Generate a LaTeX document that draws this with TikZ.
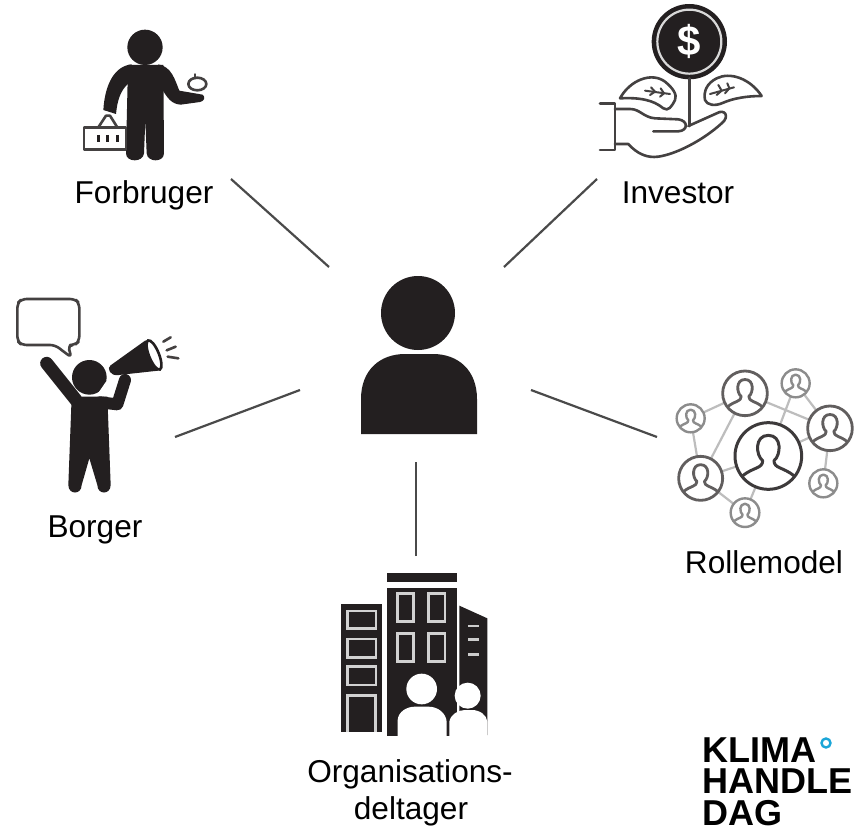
\documentclass[tikz,border=0pt]{standalone}
\usepackage{fontspec}
\setmainfont{Liberation Sans}
\definecolor{ink}{HTML}{231F20}
\definecolor{linegray}{HTML}{4A4A4A}
\definecolor{netgray}{HTML}{BDBDBD}
\definecolor{logoblue}{HTML}{1BA6D8}
\tikzset{
  label/.style={font=\fontsize{31.6}{38}\selectfont,text=black,anchor=base,align=center,inner sep=0pt},
  connector/.style={draw=linegray,line width=2.2pt},
  outline/.style={draw=ink!85,line width=2.6pt,line join=round,line cap=round},
  lightline/.style={draw=white!82!black,line width=2.4pt},
  netlink/.style={draw=netgray,line width=2.2pt},
  limb/.style={draw=ink,line cap=round,line join=round},
}
\newcommand{\netperson}[4]{% name, radius in zoom units, colour, line width
  \begin{scope}[shift={(#1)},scale=#2]
    \fill[white] (0,0) circle (1);
    \draw[draw=#3,line width=#4,line join=round]
      (-.78,.6) .. controls (-.45,.33) and (-.17,.38) .. (-.17,.14)
      .. controls (-.38,-.02) and (-.42,-.62) .. (0,-.62)
      .. controls (.42,-.62) and (.38,-.02) .. (.17,.14)
      .. controls (.17,.38) and (.45,.33) .. (.78,.6);
    \draw[draw=#3,line width=#4] (0,0) circle (1);
  \end{scope}}
\begin{document}
\begin{tikzpicture}[x=1pt,y=-1pt]
\useasboundingbox[fill=white] (0,0) rectangle (860,827);

% ---- centre person
\fill[ink] (418,313) circle (37);
\fill[ink] (361,434) -- (361,399) .. controls (361,370) and (380,354) .. (405,354)
  -- (433,354) .. controls (458,354) and (477,370) .. (477,399) -- (477,434) -- cycle;

% ---- connector ends
\coordinate (forbrugerEnd) at (231,179);
\coordinate (forbrugerHub) at (329,267);
\coordinate (investorEnd) at (597,179);
\coordinate (investorHub) at (504,267);
\coordinate (borgerEnd) at (175,437);
\coordinate (borgerHub) at (300,390);
\coordinate (rolleEnd) at (657,437);
\coordinate (rolleHub) at (531,390);
\coordinate (orgEnd) at (416,556);
\coordinate (orgHub) at (416,462);
\draw[connector] (forbrugerEnd) -- (forbrugerHub);
\draw[connector] (investorEnd) -- (investorHub);
\draw[connector] (borgerEnd) -- (borgerHub);
\draw[connector] (rolleEnd) -- (rolleHub);
\draw[connector] (orgEnd) -- (orgHub);

% ---- Forbruger
\begin{scope}[shift={(60,20)},scale=1/3]
  \fill[ink] (255,82) circle (53);
  % torso and legs
  \fill[ink] (204,135) -- (310,135) -- (312,400) .. controls (312,428) and (262,428) .. (260,400)
    -- (256,300) -- (252,400) .. controls (250,428) and (198,428) .. (198,400) -- cycle;
  % arm with basket
  \fill[ink] (215,133) .. controls (165,138) and (135,190) .. (130,270) -- (168,282)
    .. controls (172,240) and (182,210) .. (206,190) -- cycle;
  % arm with apple
  \fill[ink] (295,133) .. controls (335,140) and (345,180) .. (358,212) -- (428,224)
    .. controls (438,232) and (432,244) .. (420,246) -- (362,254)
    .. controls (335,252) and (322,235) .. (305,205) -- cycle;
  \draw[outline] (72,322) rectangle (198,388);
  \draw[outline] (115,322) -- (138,287) -- (150,287) -- (172,322);
  \foreach \xx in {115,143,172} \draw[ink,line width=3pt] (\xx,345) -- (\xx,366);
  \draw[outline,fill=white] (412,192) ellipse (27 and 19);
  \draw[outline] (405,163) -- (405,175);
\end{scope}

% ---- Investor
\begin{scope}[shift={(590,0)},scale=1/3]
  \fill[ink] (298,125) circle (113);
  \draw[white!85!black,line width=2.2pt] (298,125) circle (96);
  \node[font=\bfseries\fontsize{42}{42}\selectfont,text=white,inner sep=0pt] (dollar) at (298,125) {\$};
  \draw[outline] (298,235) -- (298,378);
  \draw[outline] (90,295) .. controls (120,240) and (185,215) .. (225,245) .. controls (250,265) and (262,285) .. (255,300)
    .. controls (245,320) and (235,335) .. (220,325) .. controls (190,300) and (150,292) .. (90,295);
  \draw[outline] (515,288) .. controls (480,235) and (420,215) .. (380,235) .. controls (350,250) and (340,275) .. (345,300)
    .. controls (350,315) and (375,320) .. (400,308) .. controls (430,295) and (470,288) .. (515,288);
  \draw[outline,line width=2pt] (165,272) -- (240,282);
  \draw[outline,line width=2pt] (183,262) -- (195,275) -- (180,285);
  \draw[outline,line width=2pt] (212,265) -- (222,280) -- (210,290);
  \draw[outline,line width=2pt] (360,282) -- (432,262);
  \draw[outline,line width=2pt] (385,255) -- (395,272) -- (380,285);
  \draw[outline,line width=2pt] (412,250) -- (418,265) -- (405,280);
  \draw[outline] (30,310) -- (75,310) -- (75,450) -- (30,450);
  \draw[outline] (75,327) -- (120,327) .. controls (150,327) and (160,352) .. (195,355) -- (265,358)
    .. controls (295,362) and (295,392) .. (265,394) -- (190,394);
  \draw[outline] (75,432) -- (115,432) .. controls (140,460) and (170,475) .. (205,470)
    .. controls (260,462) and (340,420) .. (395,370) .. controls (420,350) and (405,325) .. (380,340)
    -- (295,378);
\end{scope}

% ---- Borger
\begin{scope}[shift={(0,285)},scale=1/3]
  \draw[outline,rounded corners=5pt] (165,180) -- (65,180) -- (52,168) -- (52,55) -- (65,42) -- (225,42) -- (238,55)
    -- (238,168) -- (225,180) -- (203,180) -- (215,218) -- cycle;
  \draw[limb,line width=13pt] (140,235) -- (228,345);
  \fill[ink] (215,335) -- (205,600) .. controls (205,630) and (245,630) .. (245,600) -- (268,520)
    -- (292,600) .. controls (292,630) and (332,630) .. (332,600) -- (322,335) -- cycle;
  \fill[ink] (268,277) circle (52);
  \draw[limb,line width=12pt] (300,352) -- (352,358) -- (375,285);
  \fill[white] (350,282) -- (322,326) -- (292,328) -- (318,290) -- cycle;
  \fill[ink,rounded corners=4pt] (322,248) -- (445,160) -- (484,256) -- (338,272) -- cycle;
  \draw[ink,line width=2.6pt,fill=white,rotate around={22:(462,210)}] (462,210) ellipse (15 and 47);
  \draw[outline] (490,170) -- (512,157);
  \draw[outline] (500,196) -- (527,185);
  \draw[outline] (503,215) -- (535,220);
\end{scope}

% ---- Rollemodel
\begin{scope}[shift={(660,360)},scale=1/3]
  \coordinate (nc) at (325,288);
  \coordinate (na) at (255,100);
  \coordinate (nb) at (122,355);
  \coordinate (nd) at (510,205);
  \coordinate (ne) at (92,175);
  \coordinate (nf) at (407,70);
  \coordinate (ng) at (490,370);
  \coordinate (nh) at (255,458);
  \foreach \p/\q in {na/ne,na/nb,ne/nb,na/nd,nf/nd,nf/nc,nd/nc,nd/ng,nb/nc,nb/nh,nh/nc}
    \draw[netlink] (\p) -- (\q);
  \netperson{ne}{42}{gray!90}{2.4pt}
  \netperson{nf}{42}{gray!90}{2.4pt}
  \netperson{ng}{42}{gray!90}{2.4pt}
  \netperson{nh}{43}{gray!90}{2.4pt}
  \netperson{na}{67}{ink!72}{2.8pt}
  \netperson{nb}{66}{ink!72}{2.8pt}
  \netperson{nd}{67}{ink!72}{2.8pt}
  \netperson{nc}{100}{ink!88}{3pt}
\end{scope}

% ---- Organisationsdeltager
\begin{scope}[shift={(330,565)},scale=1/3]
  \fill[ink] (32,118) rectangle (155,502);
  \fill[ink] (172,25) rectangle (380,52);
  \fill[ink] (172,68) rectangle (380,512);
  \fill[ink] (388,122) -- (472,160) -- (472,510) -- (388,510) -- cycle;
  \foreach \a/\b/\c/\d in {52/138/138/190,52/222/138/278,52/305/138/360,202/85/250/170,295/85/345/170,202/205/250/290,295/205/345/290}
    \draw[lightline] (\a,\b) rectangle (\c,\d);
  \draw[lightline] (52,502) -- (52,392) -- (136,392) -- (136,502);
  \foreach \yy in {183,224,268} \draw[white!80!black,line width=2.6pt] (414,\yy) -- (446,\yy);
  \fill[white] (275,372) circle (46);
  \fill[white] (203,515) -- (203,465) .. controls (205,440) and (230,425) .. (255,425)
    -- (295,425) .. controls (325,425) and (348,445) .. (350,470) -- (350,515) -- cycle;
  \fill[white] (413,392) circle (39);
  \fill[white] (358,515) -- (358,470) .. controls (362,448) and (385,435) .. (405,435)
    -- (425,435) .. controls (450,435) and (470,450) .. (472,470) -- (472,515) -- cycle;
\end{scope}

% ---- labels
\node[label] (forbruger) at (144,203) {Forbruger};
\node[label] (investor) at (678,203) {Investor};
\node[label] (borger) at (95,537) {Borger};
\node[label] (rollemodel) at (764,573) {Rollemodel};
\node[label] (org1) at (410,782) {Organisations-};
\node[label] (org2) at (411,819) {deltager};

% ---- logo
\node[font=\bfseries\fontsize{36}{31.5}\selectfont,anchor=south west,align=left,inner sep=0pt,text=black] (logo) at (702,826)
  {KLIMA\\HANDLE\\DAG};
\draw[logoblue,line width=2.4pt] (826,743) circle (4.5);
\end{tikzpicture}
\end{document}
